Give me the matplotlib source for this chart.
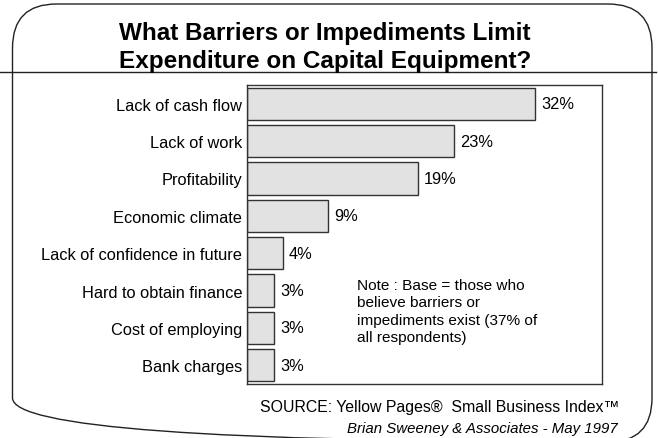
import matplotlib
matplotlib.use("Agg")
import matplotlib.pyplot as plt
from matplotlib.patches import FancyBboxPatch

categories = ["Lack of cash flow", "Lack of work", "Profitability", "Economic climate",
              "Lack of confidence in future", "Hard to obtain finance",
              "Cost of employing", "Bank charges"]
values = [32, 23, 19, 9, 4, 3, 3, 3]
value_labels = ["32%", "23%", "19%", "9%", "4%", "3%", "3%", "3%"]

plt.rcParams['font.family'] = ['Liberation Sans', 'DejaVu Sans']

W, H = 658, 439
fig = plt.figure(figsize=(W/100, H/100), dpi=100)

# background axes in pixel coordinates
bg = fig.add_axes([0, 0, 1, 1])
bg.set_xlim(0, W)
bg.set_ylim(H, 0)
bg.axis("off")
frame = FancyBboxPatch((12.5, 5), 652 - 12.5, 443 - 5,
                       boxstyle="round,pad=0,rounding_size=44",
                       fill=False, edgecolor="#222222", linewidth=1.0)
bg.add_patch(frame)
bg.plot([0, 656], [73, 73], color="#222222", linewidth=1.0)

bg.text(325, 40, "What Barriers or Impediments Limit", ha="center", va="baseline",
        fontsize=17.5, fontweight="bold")
bg.text(325, 68, "Expenditure on Capital Equipment?", ha="center", va="baseline",
        fontsize=17.5, fontweight="bold")

bg.text(357, 312, "Note : Base = those who\nbelieve barriers or\nimpediments exist (37% of\nall respondents)",
        ha="left", va="center", fontsize=11.1, linespacing=1.33, zorder=5)

bg.text(619, 408, "SOURCE: Yellow Pages\u00ae  Small Business Index\u2122",
        ha="right", va="center", fontsize=11.4)
bg.text(618, 429, "Brian Sweeney & Associates - May 1997",
        ha="right", va="center", fontsize=10.8, style="italic")

left, right, top, bottom = 247, 602, 86, 385
ax = fig.add_axes([left/W, 1-bottom/H, (right-left)/W, (bottom-top)/H])
ax.set_facecolor("none")
y = list(range(len(categories)))
ax.barh(y, values, height=0.86, color="#e2e2e2", edgecolor="#333333", linewidth=1.0)
for yi, v, lab in zip(y, values, value_labels):
    ax.text(v + 0.65, yi, lab, va="center", ha="left", fontsize=11.8)
ax.set_xlim(0, 39.4)
ax.set_ylim(len(categories) - 0.5, -0.5)
ax.set_yticks(y)
ax.set_yticklabels(categories, fontsize=11.8)
ax.tick_params(axis="y", length=0, pad=3.5)
ax.set_xticks([])
for s in ax.spines.values():
    s.set_color("#333333")
    s.set_linewidth(1.0)

fig.savefig("out.png", dpi=100)
